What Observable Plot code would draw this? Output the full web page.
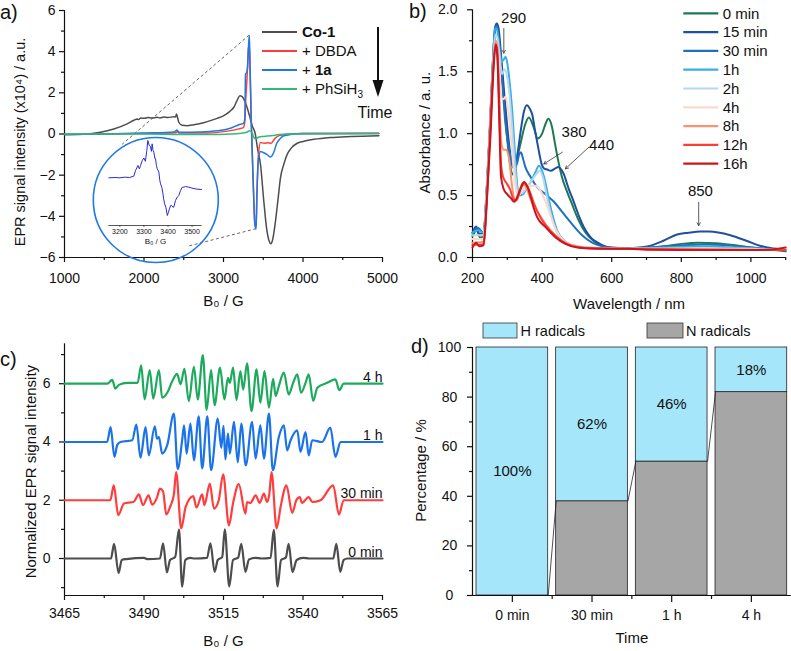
<!DOCTYPE html>
<html>
<head>
<meta charset="utf-8">
<title>Co-1 EPR and UV–vis monitoring</title>
<script src="https://cdn.jsdelivr.net/npm/d3@7"></script>
<script src="https://cdn.jsdelivr.net/npm/@observablehq/plot@0.6"></script>
<style>
  html, body { margin: 0; padding: 0; background: #fff; }
  #figure { position: relative; width: 791px; height: 651px; overflow: hidden; background: #fff;
            font-family: "Liberation Sans", Arial, Helvetica, sans-serif; }
  .panel { position: absolute; }
  .panel svg { overflow: visible; }
</style>
</head>
<body>
<div id="figure"></div>
<script>
// ---------- (a) EPR spectra of Co-1 after successive additions (B0 in G, intensity x10^4) ----------
const eprSeries = ["Co-1", "+ DBDA", "+ 1a", "+ PhSiH₃"];
const eprColors = ["#4d4d4d", "#ff3d3d", "#1f78e6", "#34b877"];
const eprCo1 = [[1000,-0.03],[1300,0.0],[1453,0.08],[1620,0.24],[1788,0.49],[1880,0.68],[1914,0.73],[1930,0.7],[1960,0.78],[2000,0.76],[2050,0.8],[2100,0.78],[2166,0.81],[2200,0.78],[2250,0.82],[2300,0.8],[2375,0.84],[2395,0.82],[2409,0.97],[2425,0.75],[2438,0.57],[2480,0.42],[2540,0.4],[2627,0.45],[2750,0.55],[2836,0.65],[2920,0.76],[3004,0.89],[3080,1.1],[3130,1.3],[3170,1.62],[3205,1.86],[3235,1.82],[3265,1.62],[3300,1.25],[3330,0.85],[3360,0.42],[3400,0.0],[3430,-0.75],[3465,-1.47],[3507,-3.26],[3541,-4.55],[3570,-5.15],[3595,-5.33],[3620,-5.1],[3654,-4.23],[3685,-3.2],[3717,-2.12],[3760,-1.45],[3801,-0.99],[3860,-0.65],[3927,-0.45],[4000,-0.36],[4136,-0.26],[4346,-0.17],[4600,-0.12],[4954,-0.08]];
const eprDBDA = [[1000,-0.02],[1500,0.0],[2000,0.03],[2400,0.06],[2420,0.12],[2440,0.05],[2795,0.05],[3046,0.14],[3193,0.25],[3250,0.31],[3268,0.6],[3280,1.69],[3297,2.83],[3315,4.2],[3325,4.3],[3335,3.0],[3350,0.5],[3375,-2.5],[3395,-4.4],[3410,-4.5],[3420,-3.0],[3440,-1.0],[3465,-0.41],[3510,-0.45],[3560,-0.42],[3600,-0.45],[3650,-0.2],[3700,-0.08],[3760,-0.03],[4000,0.03],[4954,0.04]];
const eprAdd1a = [[1000,-0.02],[1500,0.0],[2000,0.05],[2380,0.1],[2415,0.19],[2440,0.08],[2700,0.1],[2920,0.16],[3088,0.28],[3193,0.45],[3250,0.52],[3268,0.7],[3277,2.9],[3292,3.0],[3302,3.2],[3315,4.3],[3325,4.78],[3333,3.5],[3350,0.5],[3375,-2.5],[3395,-4.4],[3410,-4.62],[3420,-3.0],[3440,-1.2],[3465,-0.85],[3500,-0.9],[3549,-1.0],[3591,-1.12],[3633,-0.89],[3670,-0.45],[3696,-0.3],[3759,-0.08],[4000,0.02],[4954,0.03]];
const eprPhSiH3 = [[1000,0.0],[2000,0.0],[2400,-0.02],[2800,-0.03],[3100,0.0],[3250,0.05],[3300,0.1],[3330,0.16],[3360,0.05],[3380,-0.15],[3402,-0.24],[3440,-0.16],[3490,-0.12],[3550,-0.1],[3600,-0.08],[3700,-0.03],[3800,0.0],[4954,0.02]];
// magnified +1a signal shown in the round inset (arbitrary units)
const insetSpectrum = [[3154,-0.04],[3180,-0.02],[3200,-0.04],[3220,0.0],[3240,-0.02],[3258,0.06],[3265,0.4],[3275,0.7],[3281,0.5],[3286,0.7],[3293,1.0],[3300,1.15],[3306,0.95],[3312,1.6],[3316,2.2],[3322,1.9],[3327,1.85],[3331,1.55],[3334,2.0],[3338,1.6],[3341,1.5],[3346,1.1],[3348,1.1],[3352,0.7],[3355,0.5],[3359,0.4],[3362,0.3],[3366,-0.2],[3369,-0.4],[3374,-0.6],[3378,-0.9],[3382,-1.3],[3386,-1.6],[3391,-1.8],[3397,-2.3],[3402,-2.1],[3406,-1.9],[3411,-1.7],[3415,-1.7],[3420,-1.8],[3424,-1.8],[3431,-1.4],[3438,-1.2],[3445,-1.1],[3452,-0.8],[3459,-0.6],[3466,-0.6],[3473,-0.56],[3486,-0.6],[3500,-0.66],[3520,-0.72],[3539,-0.74]];
const insetTicks = [3200, 3300, 3400, 3500];
// dashed guides from the sharp +1a line to the inset
const zoomGuides = [{B1: 3322, v1: 4.8, B2: 1725, v2: -0.5}, {B1: 3410, v1: -4.6, B2: 2563, v2: -5.44}];

// ---------- (b) UV–vis absorbance over time ----------
const uvTimes = ["0 min", "15 min", "30 min", "1h", "2h", "4h", "8h", "12h", "16h"];
const uvColors = ["#1b7a52", "#1f4fa0", "#2170be", "#3aaee0", "#b5d8ef", "#fcd9cc", "#f79473", "#fb3d35", "#c8161e"];
const uv0min = [[200,0.17],[212,0.22],[222,0.16],[232,0.18],[240,0.48],[250,1.02],[259,1.55],[266,1.84],[271,1.86],[278,1.7],[290,1.3],[300,0.95],[308,0.75],[314,0.67],[320,0.7],[328,0.8],[338,0.92],[352,1.08],[362,1.13],[376,1.05],[387,0.96],[400,1.0],[410,1.08],[418,1.12],[428,1.06],[437,0.92],[445,0.8],[457,0.65],[472,0.53],[486,0.43],[505,0.3],[525,0.2],[550,0.13],[575,0.09],[600,0.075],[650,0.07],[700,0.075],[750,0.09],[800,0.11],[850,0.12],[900,0.115],[950,0.1],[1000,0.08],[1050,0.065],[1100,0.05]];
const uv15min = [[200,0.2],[210,0.25],[220,0.19],[232,0.2],[240,0.5],[250,1.05],[259,1.6],[265,1.86],[270,1.89],[275,1.85],[283,1.6],[292,1.3],[300,1.05],[308,0.85],[316,0.73],[322,0.72],[330,0.85],[340,1.05],[348,1.18],[356,1.23],[365,1.2],[372,1.15],[380,1.02],[386,0.93],[392,0.84],[398,0.76],[405,0.72],[415,0.71],[425,0.7],[438,0.72],[446,0.73],[455,0.71],[463,0.67],[470,0.61],[477,0.55],[487,0.48],[496,0.41],[508,0.32],[520,0.245],[532,0.19],[544,0.15],[560,0.12],[573,0.1],[600,0.08],[650,0.075],[702,0.089],[750,0.137],[788,0.186],[820,0.2],[855,0.21],[880,0.21],[941,0.18],[989,0.133],[1028,0.093],[1065,0.073],[1100,0.06]];
const uv30min = [[200,0.2],[215,0.24],[232,0.2],[240,0.5],[250,1.05],[259,1.6],[265,1.85],[270,1.87],[278,1.7],[286,1.4],[294,1.1],[302,0.92],[312,0.78],[320,0.72],[328,0.76],[334,0.83],[339,0.85],[345,0.8],[352,0.73],[367,0.65],[385,0.57],[410,0.51],[434,0.45],[457,0.37],[486,0.27],[515,0.18],[544,0.12],[582,0.085],[620,0.075],[700,0.08],[760,0.09],[820,0.1],[860,0.105],[920,0.1],[980,0.085],[1040,0.07],[1100,0.06]];
const uv1h = [[200,0.2],[215,0.22],[232,0.2],[240,0.5],[250,1.05],[258,1.55],[265,1.85],[270,1.85],[276,1.72],[283,1.58],[290,1.6],[295,1.62],[300,1.57],[305,1.46],[314,1.19],[322,0.84],[329,0.57],[336,0.5],[345,0.51],[352,0.54],[367,0.61],[381,0.69],[391,0.74],[400,0.7],[410,0.6],[420,0.46],[431,0.33],[443,0.22],[462,0.14],[486,0.1],[525,0.08],[600,0.075],[700,0.075],[800,0.085],[860,0.09],[920,0.085],[1000,0.075],[1100,0.06]];
const uv2h = [[200,0.18],[232,0.18],[240,0.48],[250,1.02],[258,1.5],[266,1.8],[271,1.78],[278,1.62],[285,1.48],[292,1.52],[298,1.48],[305,1.35],[314,1.05],[322,0.72],[330,0.53],[340,0.52],[355,0.56],[370,0.62],[385,0.68],[393,0.7],[403,0.64],[413,0.5],[425,0.35],[440,0.22],[460,0.14],[490,0.1],[530,0.08],[600,0.075],[700,0.07],[850,0.075],[1000,0.07],[1100,0.06]];
const uv4h = [[200,0.15],[232,0.15],[240,0.45],[250,1.0],[259,1.5],[266,1.74],[271,1.74],[278,1.45],[284,1.28],[290,1.28],[295,1.3],[301,1.22],[308,1.05],[315,0.82],[322,0.6],[330,0.5],[345,0.55],[360,0.58],[380,0.58],[395,0.54],[410,0.45],[425,0.33],[440,0.22],[460,0.14],[490,0.1],[530,0.08],[600,0.07],[800,0.07],[1100,0.06]];
const uv8h = [[200,0.12],[232,0.13],[240,0.43],[250,1.0],[259,1.5],[266,1.75],[271,1.72],[277,1.3],[283,0.92],[290,0.87],[296,0.87],[305,0.8],[314,0.57],[322,0.46],[332,0.5],[343,0.6],[352,0.58],[367,0.47],[385,0.38],[410,0.27],[438,0.18],[467,0.12],[500,0.09],[550,0.075],[700,0.07],[900,0.065],[1100,0.06]];
const uv12h = [[200,0.1],[232,0.11],[240,0.4],[250,0.98],[259,1.5],[266,1.72],[270,1.7],[276,1.3],[282,0.75],[288,0.65],[298,0.6],[308,0.55],[318,0.47],[326,0.46],[338,0.55],[350,0.6],[362,0.55],[375,0.45],[390,0.35],[410,0.26],[440,0.17],[470,0.11],[510,0.08],[600,0.07],[800,0.065],[1100,0.06]];
const uv16h = [[200,0.08],[210,0.12],[220,0.09],[232,0.1],[240,0.4],[252,1.0],[261,1.55],[267,1.72],[272,1.6],[277,1.1],[282,0.65],[290,0.55],[300,0.51],[310,0.48],[320,0.45],[330,0.5],[340,0.57],[348,0.61],[358,0.57],[368,0.48],[376,0.4],[385,0.33],[410,0.245],[438,0.164],[467,0.11],[505,0.078],[560,0.07],[650,0.07],[700,0.062],[800,0.06],[900,0.06],[1000,0.06],[1060,0.065],[1100,0.08]];
const uvSpectra = [uv0min, uv15min, uv30min, uv1h, uv2h, uv4h, uv8h, uv12h, uv16h];
// band annotations: label, arrow tail -> tip, label anchor (nm, absorbance)
const bandLabels = ["290", "380", "440", "850"];
const bandArrows = [
  {x1: 290, y1: 1.85, x2: 290, y2: 1.65, tx: 318, ty: 1.93},
  {x1: 458, y1: 0.85, x2: 405, y2: 0.755, tx: 492, ty: 1.01},
  {x1: 534, y1: 0.89, x2: 467, y2: 0.716, tx: 571, ty: 0.904},
  {x1: 850, y1: 0.446, x2: 850, y2: 0.258, tx: 855, ty: 0.535}
];

// ---------- (c) normalized EPR hyperfine spectra, offset by 2 ----------
const hfTimes = ["0 min", "30 min", "1 h", "4 h"];
const hfOffsets = [0, 2, 4, 6];
const hfColors = ["#4d4d4d", "#ff3d3d", "#1a73e8", "#1daa5c"];
const hf0min = [[3465,0],[3479.6,0],[3480.6,0.5],[3482.0,-0.5],[3483.0,-0.05],[3484.5,-0.02],[3490,0.02],[3491,-0.02],[3495.0,0],[3496.0,0.52],[3497.2,-0.48],[3498.2,-0.05],[3499.8,0.05],[3501.0,1.0],[3502.0,-0.97],[3503.0,-0.05],[3504.5,0.02],[3506,0],[3509.8,0.02],[3510.9,0.52],[3512.2,-0.46],[3513.2,-0.05],[3514.6,0.05],[3515.4,1.0],[3516.8,-0.96],[3518.0,-0.05],[3519.6,0.03],[3520.6,0.5],[3521.9,-0.46],[3523.0,-0.03],[3525,0.02],[3527,0],[3529.8,0.02],[3530.8,0.98],[3532.0,-0.96],[3533.1,-0.05],[3534.6,0.03],[3535.5,0.5],[3536.7,-0.47],[3538.0,-0.05],[3540,0.02],[3542,0],[3549.5,0],[3550.5,0.5],[3551.7,-0.46],[3552.8,-0.05],[3554,0],[3565,0]];
const hf30min = [[3465,0],[3479.4,0],[3480.5,0.51],[3481.9,-0.51],[3483.7,-0.11],[3486.8,-0.05],[3488.4,0.2],[3489.7,-0.17],[3491.4,0.17],[3492.6,-0.15],[3494.1,0.1],[3495.0,0.4],[3496.0,0.3],[3497.0,-0.49],[3498.3,-0.2],[3499.4,0.2],[3500.1,0.97],[3501.7,-0.97],[3503.1,-0.23],[3505.5,0.14],[3506.5,-0.25],[3508.3,0.2],[3509.0,-0.17],[3510.7,0.57],[3512.0,-0.29],[3513.5,0.0],[3514.9,0.89],[3516.7,-0.86],[3518.0,-0.1],[3519.8,0.55],[3521.9,-0.46],[3522.4,-0.06],[3523.5,-0.09],[3525.1,0.17],[3526.4,-0.09],[3527.7,0.23],[3528.7,-0.06],[3529.4,0.2],[3530.1,0.97],[3531.7,-0.97],[3533.0,-0.2],[3534.8,0.51],[3536.6,-0.43],[3537.9,0.0],[3539.0,0.11],[3539.7,-0.09],[3541.8,0.11],[3542.9,-0.06],[3545.5,0],[3549.5,0.51],[3551.3,-0.49],[3552.8,0],[3565,0]];
const hf1h = [[3465,0],[3478.4,0],[3479.5,0.51],[3480.7,-0.51],[3481.6,-0.1],[3482.6,0],[3486.3,0.06],[3487.6,0.6],[3488.9,-0.54],[3490.5,0.51],[3491.5,-0.46],[3493.4,0.54],[3494.1,0.11],[3494.7,0.17],[3495.7,-0.4],[3497.3,-0.11],[3499.4,0.97],[3500.6,-0.93],[3502.0,0.06],[3502.6,0.57],[3503.4,-0.4],[3504.6,0.63],[3505.7,-0.63],[3507.2,0.88],[3508.3,-0.91],[3509.9,0.88],[3511.1,-0.97],[3513.2,0.8],[3514.3,-0.2],[3515.0,0.55],[3515.6,-0.6],[3516.4,0.3],[3517.0,-0.4],[3518.3,0.69],[3519.5,-0.7],[3520.6,0.63],[3522.0,-0.8],[3524.0,0.69],[3525.1,-0.57],[3526.6,0.57],[3527.7,-0.57],[3529.3,0.97],[3530.5,-0.97],[3532.4,0.17],[3534.0,0.57],[3535.0,-0.29],[3536.1,0.06],[3538.2,0.4],[3539.2,-0.34],[3540.8,0.34],[3541.8,-0.46],[3542.9,0.06],[3546.0,0],[3548.6,0.49],[3550.2,-0.51],[3551.8,0],[3565,0]];
const hf4h = [[3465,0],[3478.5,0],[3480.0,0.13],[3481.0,-0.17],[3482.1,-0.04],[3484.7,0.03],[3488.0,0.03],[3489.1,0.63],[3490.2,-0.54],[3491.8,0.47],[3492.9,-0.51],[3494.7,0.47],[3495.7,-0.48],[3497.3,-0.31],[3498.9,0.09],[3500.4,0.34],[3501.5,-0.02],[3502.7,0.51],[3504.1,-0.6],[3505.7,0.58],[3506.9,-0.54],[3508.5,0.98],[3509.7,-0.9],[3511.1,0.47],[3512.2,-0.74],[3513.9,0.55],[3515.3,-0.54],[3516.4,0.2],[3517.0,0.03],[3518.0,0.55],[3519.1,-0.56],[3520.3,0.43],[3521.2,-0.2],[3522.4,0.7],[3523.8,-0.94],[3525.4,0.49],[3526.6,-0.65],[3527.9,0.43],[3529.3,-0.82],[3530.6,0.17],[3531.4,-0.42],[3532.4,-0.08],[3534.0,0.38],[3535.5,-0.37],[3536.9,0.03],[3538.2,0.32],[3539.4,-0.31],[3540.8,0.03],[3541.8,0.32],[3543.2,-0.59],[3544.5,-0.14],[3547.6,0.03],[3550.2,0.15],[3551.4,-0.22],[3552.8,0],[3565,0]];
const hfSpectra = [hf0min, hf30min, hf1h, hf4h];

// ---------- (d) share of H and N radicals ----------
const ratioTimes = ["0 min", "30 min", "1 h", "4 h"];
const hRadicals = [100, 62, 46, 18];
const nRadicals = [0, 38, 54, 82];

// ---------- shared helpers ----------
const FONT = '"Liberation Sans", Arial, Helvetica, sans-serif';
const baseStyle = {fontFamily: FONT, fontSize: "14px", color: "#111", background: "transparent", overflow: "visible"};
const fig = document.getElementById("figure");

function place(node, left, top) {
  const d = document.createElement("div");
  d.className = "panel";
  d.style.left = left + "px";
  d.style.top = top + "px";
  d.append(node);
  fig.append(d);
}

// Origin-style axes: outward major ticks with labels, shorter minor ticks
function axes({xMajor, xMinor, yMajor, yMinor, xFormat, yFormat, xPad = 11, yPad = 4, xSize = 5, xMinorSize = 3, yAnchor}) {
  const common = {strokeWidth: 1.2, fontSize: 14, label: null};
  const m = [
    Plot.axisX(xMajor, {...common, tickSize: xSize, tickPadding: xPad, tickFormat: xFormat}),
    Plot.axisY(yMajor, {...common, tickSize: 5, tickPadding: yPad, tickFormat: yFormat, ...(yAnchor ? {textAnchor: yAnchor} : {})})
  ];
  if (xMinor) m.push(Plot.axisX(xMinor, {...common, tickSize: xMinorSize, fill: "none"}));
  if (yMinor) m.push(Plot.axisY(yMinor, {...common, tickSize: 3, fill: "none"}));
  return m;
}

// axis titles: centred under the frame / rotated and centred left of it
function xTitle(label, dy, fontSize = 15) {
  return Plot.text([label], {text: d => d, frameAnchor: "bottom", textAnchor: "middle", lineAnchor: "middle", dy, fontSize});
}
function yTitle(label, dx, dy, fontSize = 15) {
  return Plot.text([label], {text: d => d, frameAnchor: "left", rotate: -90, textAnchor: "middle", lineAnchor: "middle", dx, dy, fontSize});
}

// ---------- panel (a) ----------
const plotA = Plot.plot({
  width: 395, height: 320,
  marginLeft: 64, marginRight: 13, marginTop: 10, marginBottom: 63,
  style: baseStyle,
  x: {domain: [1000, 5000]},
  y: {domain: [-6, 6]},
  marks: [
    ...axes({xMajor: [1000, 2000, 3000, 4000, 5000], xMinor: [1500, 2500, 3500, 4500],
             yMajor: [-6, -4, -2, 0, 2, 4, 6], yMinor: [-5, -3, -1, 1, 3, 5], xFormat: d3.format("d")}),
    Plot.ruleY([-6], {strokeWidth: 1.2}),
    Plot.ruleX([1000], {strokeWidth: 1.2}),
    Plot.link(zoomGuides, {x1: "B1", y1: "v1", x2: "B2", y2: "v2", stroke: "#555", strokeWidth: 0.9, strokeDasharray: "3,2.5"}),
    ...[eprCo1, eprDBDA, eprAdd1a, eprPhSiH3].map((s, i) =>
      Plot.line(s, {x: d => d[0], y: d => d[1], stroke: eprColors[i], strokeWidth: 1.5, curve: "monotone-x"})),
    xTitle("B₀ / G", 44),
    yTitle("EPR signal intensity (x10⁴) / a.u.", -44.5, 8, 14.5)
  ]
});
place(plotA, 0, 0);

// inset of panel (a)
const plotInset = Plot.plot({
  width: 110, height: 125,
  marginLeft: 8.3, marginRight: 8.3, marginTop: 10, marginBottom: 25,
  style: {...baseStyle, fontSize: "7px"},
  x: {domain: [3154, 3542]},
  y: {domain: [-2.9, 2.5], axis: null},
  marks: [
    Plot.axisX(insetTicks, {tickSize: 2, tickPadding: 2, fontSize: 7, label: null, strokeWidth: 0.6, tickFormat: d3.format("d")}),
    Plot.ruleY([-2.9], {strokeWidth: 0.7}),
    Plot.line(insetSpectrum, {x: d => d[0], y: d => d[1], stroke: "#2a2ae0", strokeWidth: 1}),
    xTitle("B₀ / G", 16, 8)
  ]
});
place(plotInset, 100, 125);

// ---------- panel (b) ----------
const plotB = Plot.plot({
  width: 396, height: 320,
  marginLeft: 77, marginRight: 5.8, marginTop: 9.3, marginBottom: 63,
  style: baseStyle,
  x: {domain: [200, 1100]},
  y: {domain: [0, 2]},
  marks: [
    ...axes({xMajor: [200, 400, 600, 800, 1000], xMinor: [300, 500, 700, 900, 1100],
             yMajor: [0, 0.5, 1, 1.5, 2], yMinor: [0.25, 0.75, 1.25, 1.75],
             xFormat: d3.format("d"), yFormat: d3.format(".1f"), yPad: 10}),
    Plot.ruleY([0], {strokeWidth: 1.2}),
    Plot.ruleX([200], {strokeWidth: 1.2}),
    ...uvSpectra.map((s, i) =>
      Plot.line(s, {x: d => d[0], y: d => d[1], stroke: uvColors[i], strokeWidth: 2, curve: "monotone-x"})),
    Plot.arrow(bandArrows, {x1: "x1", y1: "y1", x2: "x2", y2: "y2", stroke: "#333", strokeWidth: 0.8, headLength: 6}),
    Plot.text(bandArrows, {x: "tx", y: "ty", text: (d, i) => bandLabels[i], fontSize: 15}),
    xTitle("Wavelength / nm", 47),
    yTitle("Absorbance / a. u.", -47, -1)
  ]
});
place(plotB, 395, 0);

// ---------- panel (c) ----------
const plotC = Plot.plot({
  width: 395, height: 331,
  marginLeft: 64, marginRight: 13, marginTop: 23.3, marginBottom: 56,
  style: baseStyle,
  x: {domain: [3465, 3565]},
  y: {domain: [-1.27, 7.37]},
  marks: [
    ...axes({xMajor: [3465, 3490, 3515, 3540, 3565], xMinor: [3477.5, 3502.5, 3527.5, 3552.5],
             yMajor: [0, 2, 4, 6], yMinor: [-1, 1, 3, 5, 7], xFormat: d3.format("d"), xPad: 8, yPad: 9}),
    Plot.ruleY([-1.27], {strokeWidth: 1.2}),
    Plot.ruleX([3465], {strokeWidth: 1.2}),
    ...hfSpectra.map((s, i) =>
      Plot.line(s, {x: d => d[0], y: d => d[1] + hfOffsets[i], stroke: hfColors[i], strokeWidth: 2.2, curve: "monotone-x"})),
    Plot.text(hfTimes, {text: d => d, x: 3565, y: (d, i) => hfOffsets[i], textAnchor: "end", lineAnchor: "bottom", dy: -2, fontSize: 14}),
    xTitle("B₀ / G", 46),
    yTitle("Normalized EPR signal intensity", -33, 2)
  ]
});
place(plotC, 0, 320);

// ---------- panel (d) ----------
const idx = d3.range(ratioTimes.length);
const barInset = 0.05;
const plotD = Plot.plot({
  width: 396, height: 331,
  marginLeft: 77, marginRight: 0.3, marginTop: 27, marginBottom: 56,
  style: baseStyle,
  x: {domain: [0, ratioTimes.length]},
  y: {domain: [0, 100]},
  marks: [
    Plot.rectY(idx, {x1: i => i + barInset, x2: i => i + 1 - barInset, y1: 0, y2: i => nRadicals[i],
                     fill: "#a6a6a6", stroke: "#222", strokeWidth: 0.8}),
    Plot.rectY(idx, {x1: i => i + barInset, x2: i => i + 1 - barInset, y1: i => nRadicals[i], y2: i => nRadicals[i] + hRadicals[i],
                     fill: "#a5e6fa", stroke: "#222", strokeWidth: 0.8}),
    Plot.link(idx.slice(0, -1), {x1: i => i + 1 - barInset, y1: i => nRadicals[i], x2: i => i + 1 + barInset, y2: i => nRadicals[i + 1],
                                 stroke: "#222", strokeWidth: 0.8}),
    Plot.text(idx, {x: i => i + 0.5, y: i => nRadicals[i] + hRadicals[i] / 2, text: i => hRadicals[i] + "%", fontSize: 15}),
    ...axes({xMajor: idx.map(i => i + 0.5), xMinor: idx.slice(1),
             yMajor: [0, 20, 40, 60, 80, 100], yMinor: [10, 30, 50, 70, 90],
             xFormat: d => ratioTimes[Math.floor(d)], xPad: 8, xSize: 7, xMinorSize: 4, yPad: 18, yAnchor: "middle"}),
    Plot.ruleY([0], {strokeWidth: 1.2}),
    Plot.ruleX([0], {strokeWidth: 1.2}),
    xTitle("Time", 43),
    yTitle("Percentage / %", -51, -1)
  ]
});
place(plotD, 395, 320);

// ---------- panel letters, legends and the time arrow ----------
const svg = d3.create("svg")
  .attr("width", 791).attr("height", 651)
  .style("position", "absolute").style("left", "0px").style("top", "0px")
  .style("overflow", "visible").style("pointer-events", "none")
  .attr("font-family", FONT).attr("fill", "#111");

// round frame of the inset
svg.append("circle").attr("cx", 155.8).attr("cy", 200).attr("r", 62.5)
  .attr("fill", "none").attr("stroke", "#1f78e6").attr("stroke-width", 1.6);

[["a)", 0, 19], ["b)", 409, 18], ["c)", 0, 366], ["d)", 411, 353]].forEach(([t, x, y]) =>
  svg.append("text").attr("x", x).attr("y", y).attr("font-size", 20).text(t));

// legend (a)
const legA = svg.append("g").attr("font-size", 15);
eprSeries.forEach((name, i) => {
  const y = 32 + i * 19;
  legA.append("line").attr("x1", 262).attr("x2", 297).attr("y1", y).attr("y2", y)
    .attr("stroke", eprColors[i]).attr("stroke-width", 2);
  const t = legA.append("text").attr("x", 302).attr("y", y + 5.3);
  if (i === 0) t.attr("font-weight", "bold").text(name);
  else if (i === 2) { t.append("tspan").text("+ "); t.append("tspan").attr("font-weight", "bold").text("1a"); }
  else if (i === 3) { t.append("tspan").text("+ PhSiH"); t.append("tspan").attr("font-size", 10).attr("dy", 4).text("3"); }
  else t.text(name);
});

// time arrow (a)
svg.append("line").attr("x1", 378).attr("x2", 378).attr("y1", 27).attr("y2", 82)
  .attr("stroke", "#111").attr("stroke-width", 2);
svg.append("path").attr("d", "M372.5,80 L383.5,80 L378,97 Z").attr("fill", "#111");
svg.append("text").attr("x", 375).attr("y", 118).attr("font-size", 16).attr("text-anchor", "middle").text("Time");

// legend (b)
const legB = svg.append("g").attr("font-size", 15);
uvTimes.forEach((name, i) => {
  const y = 13.3 + i * 18.8;
  legB.append("line").attr("x1", 683.3).attr("x2", 718.3).attr("y1", y).attr("y2", y)
    .attr("stroke", uvColors[i]).attr("stroke-width", 2.2);
  legB.append("text").attr("x", 722.7).attr("y", y + 5.3).text(name);
});

// legend (d)
const legD = svg.append("g").attr("font-size", 14.5);
[["H radicals", "#a5e6fa", 483, 34, 520.5], ["N radicals", "#a6a6a6", 647, 36, 686]].forEach(([name, fill, x, w, tx]) => {
  legD.append("rect").attr("x", x).attr("y", 323).attr("width", w).attr("height", 15)
    .attr("fill", fill).attr("stroke", "#333").attr("stroke-width", 0.8);
  legD.append("text").attr("x", tx).attr("y", 336).text(name);
});

fig.append(svg.node());
</script>
</body>
</html>
